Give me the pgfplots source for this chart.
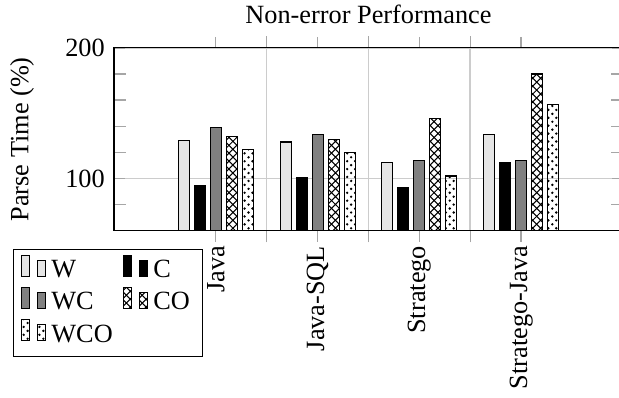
\documentclass[border=0pt]{standalone}
\usepackage{fontspec}
\setmainfont{Liberation Serif}
\usepackage{pgfplots}
\pgfplotsset{compat=1.18}
\usetikzlibrary{patterns}
\begin{document}
\begin{tikzpicture}
\useasboundingbox (-43.35pt,-63.5pt) rectangle (192.0pt,87.8pt);
\begin{axis}[
  scale only axis,
  width=193.5pt, height=69.6pt,
  xmin=-1, xmax=4, ymin=60, ymax=200,
  ybar=1.9pt, bar width=4.18pt,
  xtick={0,1,2,3},
  xticklabels={Java,Java-SQL,Stratego,Stratego-Java},
  minor xtick={0.5,1.5,2.5},
  ytick={100,200},
  minor ytick={80,120,140,160,180},
  xminorgrids, ymajorgrids,
  grid style={gray!40, line width=0.6pt},
  xtick align=outside,
  ytick align=inside,
  major tick length=4.2pt, minor tick length=4.4pt,
  every tick/.style={gray!70, line width=0.5pt},
  every minor tick/.style={gray!70, line width=0.5pt},
  /pgf/number format/assume math mode=true,
  xticklabel style={rotate=90, anchor=east, xshift=2pt},
  title={Non-error Performance},
  every axis title/.style={at={(axis description cs:0.5,1)}, anchor=base, yshift=9.4pt},
  ylabel={Parse Time (\%)},
  every axis y label/.style={at={(axis description cs:-0.1685,0.5)}, rotate=90, anchor=base},
  legend columns=2,
  legend style={at={(0,0)}, anchor=north west, xshift=-38.4pt, yshift=-6.84pt, draw=black, font=\normalsize,
    /tikz/every even column/.append style={column sep=2pt}},
  legend cell align=left,
]
\addplot[draw=black, fill=black!10] coordinates {(0,129) (1,128) (2,112) (3,134)};
\addplot[draw=black, fill=black] coordinates {(0,95) (1,101) (2,93) (3,112)};
\addplot[draw=black, fill=black!50] coordinates {(0,139) (1,134) (2,114) (3,114)};
\addplot[draw=black, pattern=crosshatch] coordinates {(0,132) (1,130) (2,146) (3,180)};
\addplot[draw=black, pattern=crosshatch dots] coordinates {(0,122) (1,120) (2,102) (3,157)};
\legend{W,C,WC,CO,WCO}
\end{axis}
\end{tikzpicture}
\end{document}
